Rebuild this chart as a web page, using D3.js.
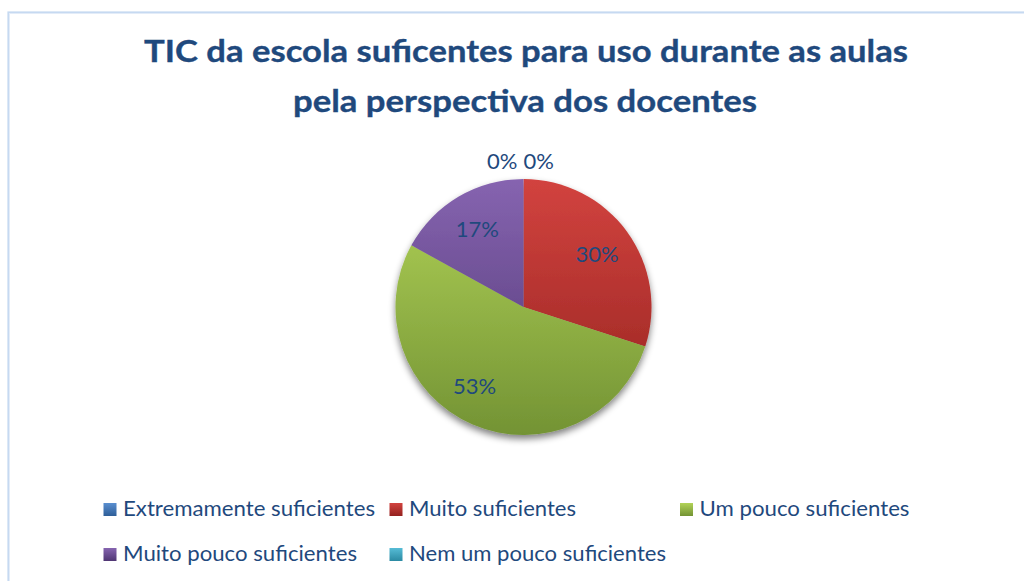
<!DOCTYPE html>
<html>
<head>
<meta charset="utf-8">
<script src="https://cdn.jsdelivr.net/npm/d3@7"></script>
<style>
  html, body { margin: 0; padding: 0; background: #ffffff; }
  svg { display: block; }
</style>
</head>
<body>
<svg id="chart" width="1024" height="581"></svg>
<script>
// Answers: are the school's ICT resources sufficient for use in class (teachers' view)
const categories = [
  "Extremamente suficientes",
  "Muito suficientes",
  "Um pouco suficientes",
  "Muito pouco suficientes",
  "Nem um pouco suficientes"
];
const percentages = [0, 30, 53, 17, 0];
const titleLines = [
  "TIC da escola suficentes para uso durante as aulas",
  "pela perspectiva dos docentes"
];
// light (top) and dark (bottom) shade of each slice's vertical gradient
const sliceLight = ["#5A8FD0", "#D2433F", "#B2D358", "#8664B0", "#56BCD6"];
const sliceDark  = ["#2E5E98", "#94221F", "#739334", "#4F3673", "#2B8AA3"];

const svg = d3.select("#chart");
const W = 1024, H = 581;
const textBlue = "#1F497D";
const font = "Lato, 'Open Sans', sans-serif";

// chart area frame (double light-blue line)
svg.append("rect")
  .attr("x", 8.5).attr("y", 12.5)
  .attr("width", W + 20).attr("height", H + 20)
  .attr("fill", "#ffffff")
  .attr("stroke", "#C6D9F1").attr("stroke-width", 2.2);
svg.append("rect")
  .attr("x", 9.5).attr("y", 13.5)
  .attr("width", W + 20).attr("height", H + 20)
  .attr("fill", "none")
  .attr("stroke", "#E3ECF8").attr("stroke-width", 1);

// title
const titleSpans = [
  { x0: 144, x1: 908, y: 62 },
  { x0: 293, x1: 757, y: 112 }
];
titleLines.forEach((line, i) => {
  const s = titleSpans[i];
  svg.append("text")
    .attr("x", s.x0).attr("y", s.y)
    .attr("font-family", font)
    .attr("font-weight", 700)
    .attr("font-size", 31)
    .attr("fill", textBlue)
    .attr("stroke", textBlue).attr("stroke-width", 0.35)
    .attr("textLength", s.x1 - s.x0)
    .attr("lengthAdjust", "spacingAndGlyphs")
    .text(line);
});

// pie
const cx = 523.5, cy = 307, R = 128;
const defs = svg.append("defs");

categories.forEach((c, i) => {
  const g = defs.append("linearGradient")
    .attr("id", "grad" + i)
    .attr("gradientUnits", "userSpaceOnUse")
    .attr("x1", 0).attr("y1", -R)
    .attr("x2", 0).attr("y2", R);
  g.append("stop").attr("offset", "0%").attr("stop-color", sliceLight[i]);
  g.append("stop").attr("offset", "100%").attr("stop-color", sliceDark[i]);
});

const shadow = defs.append("filter")
  .attr("id", "pieShadow")
  .attr("x", "-20%").attr("y", "-20%")
  .attr("width", "140%").attr("height", "140%");
shadow.append("feGaussianBlur")
  .attr("in", "SourceAlpha").attr("stdDeviation", 3.5).attr("result", "b");
shadow.append("feOffset")
  .attr("in", "b").attr("dx", 0).attr("dy", 4).attr("result", "o");
shadow.append("feComponentTransfer").attr("in", "o").attr("result", "s")
  .append("feFuncA").attr("type", "linear").attr("slope", 0.5);
const merge = shadow.append("feMerge");
merge.append("feMergeNode").attr("in", "s");
merge.append("feMergeNode").attr("in", "SourceGraphic");

const pie = d3.pie().sort(null).value(d => d)(percentages);
const arc = d3.arc().innerRadius(0).outerRadius(R);

const pieG = svg.append("g")
  .attr("transform", `translate(${cx},${cy})`);

pieG.append("g").attr("filter", "url(#pieShadow)")
  .selectAll("path")
  .data(pie)
  .join("path")
  .attr("d", arc)
  .attr("fill", (d, i) => `url(#grad${i})`);

// data labels: inside the slice, zero slices just outside the rim;
// the large slice label sits a little further round, as in best-fit placement
const labelArc = d3.arc().innerRadius(R * 0.71).outerRadius(R * 0.71);
const outerArc = d3.arc().innerRadius(R + 19).outerRadius(R + 19);
const lastIdx = percentages.length - 1;
function labelPos(d, i) {
  if (d.value === 0) {
    const p = outerArc.centroid(d);
    if (i === lastIdx) p[0] -= 6;
    return p;
  }
  if (d.endAngle - d.startAngle > Math.PI) {
    const a = (d.startAngle + d.endAngle) / 2 + 0.15;
    const r = R * 0.72;
    return [Math.sin(a) * r, -Math.cos(a) * r];
  }
  return labelArc.centroid(d);
}
pieG.selectAll("text.lbl")
  .data(pie)
  .join("text")
  .attr("class", "lbl")
  .attr("font-family", font)
  .attr("font-size", 22)
  .attr("fill", textBlue)
  .attr("dominant-baseline", "central")
  .attr("text-anchor", (d, i) => d.value === 0 ? (i === lastIdx ? "end" : "start") : "middle")
  .attr("transform", (d, i) => {
    const p = labelPos(d, i);
    return `translate(${p[0]},${p[1]})`;
  })
  .text(d => d3.format(".0f")(d.value) + "%");

// legend
const legendItems = [
  { x: 103.5, y: 503, tw: 252 },
  { x: 389.5, y: 503, tw: 167 },
  { x: 680, y: 503, tw: 210 },
  { x: 103.5, y: 548, tw: 234 },
  { x: 389.5, y: 548, tw: 257 }
];
const legend = svg.append("g");
categories.forEach((c, i) => {
  const it = legendItems[i];
  const lg = defs.append("linearGradient")
    .attr("id", "lgrad" + i)
    .attr("x1", 0).attr("y1", 0).attr("x2", 0).attr("y2", 1);
  lg.append("stop").attr("offset", "0%").attr("stop-color", sliceLight[i]);
  lg.append("stop").attr("offset", "100%").attr("stop-color", sliceDark[i]);
  legend.append("rect")
    .attr("x", it.x).attr("y", it.y)
    .attr("width", 13).attr("height", 13)
    .attr("fill", `url(#lgrad${i})`);
  legend.append("text")
    .attr("x", it.x + 19.5).attr("y", it.y + 13)
    .attr("font-family", font)
    .attr("font-size", 22)
    .attr("fill", textBlue)
    .attr("textLength", it.tw)
    .attr("lengthAdjust", "spacingAndGlyphs")
    .text(c);
});
</script>
</body>
</html>
